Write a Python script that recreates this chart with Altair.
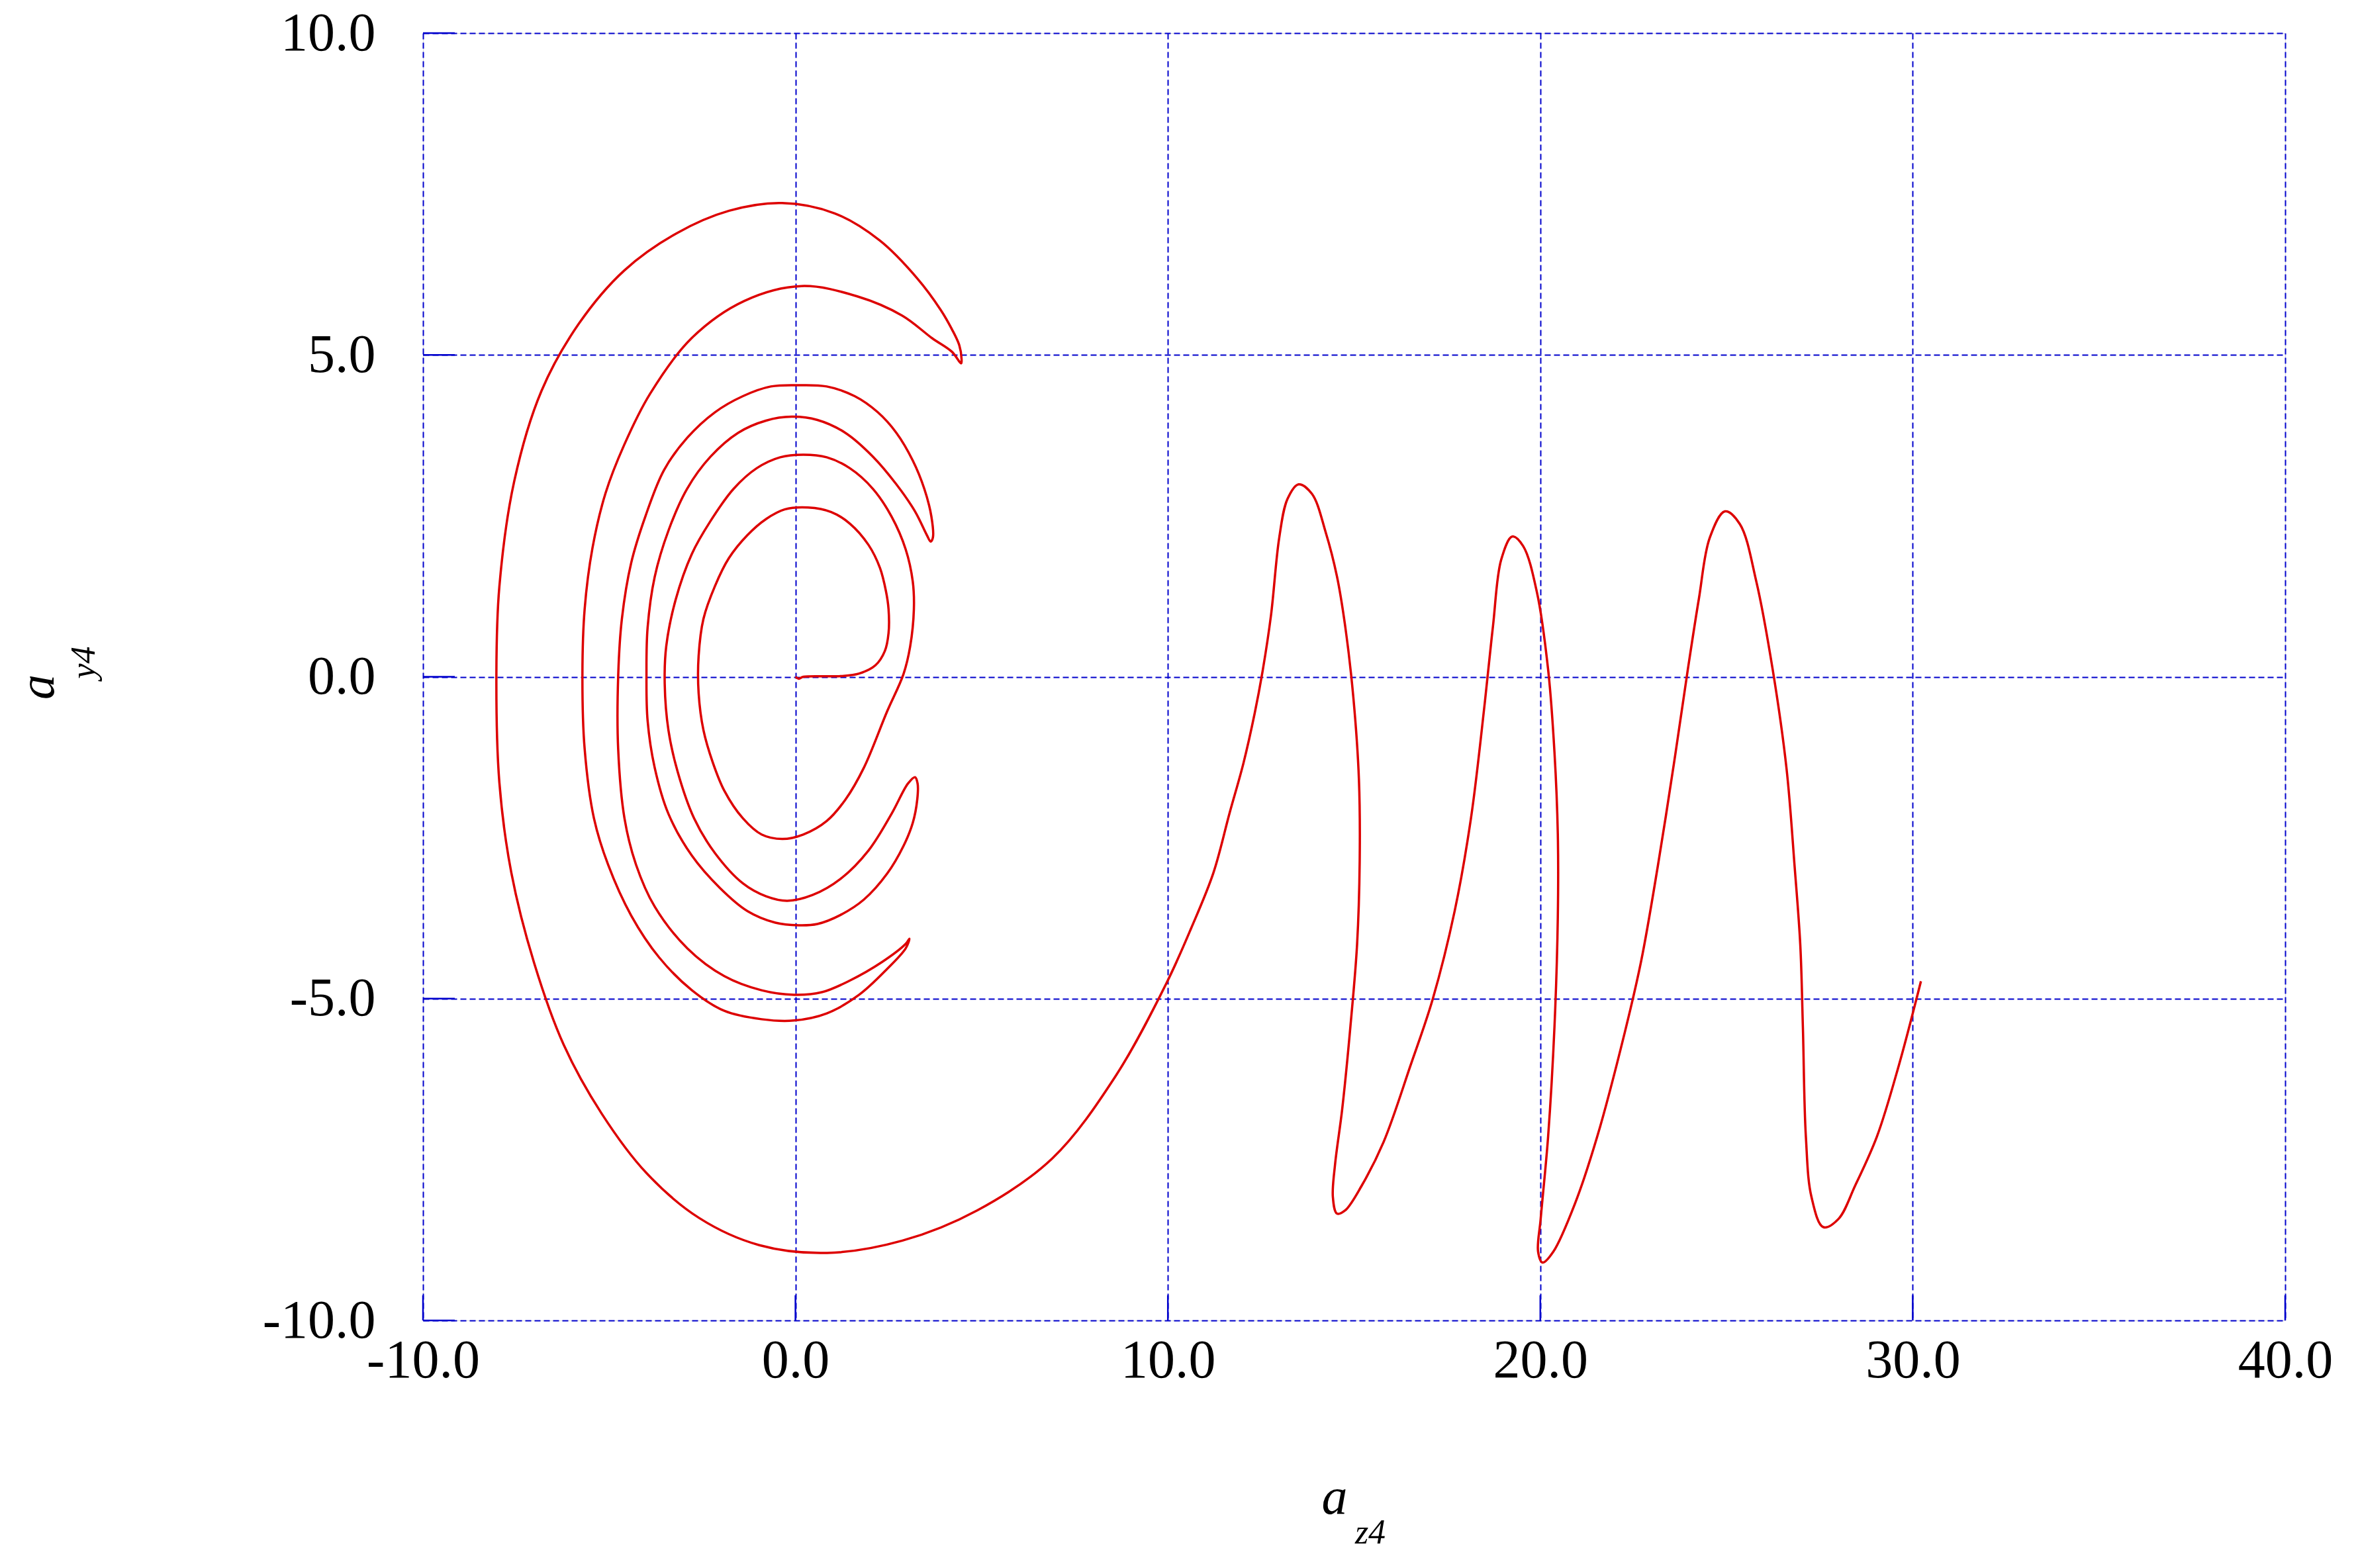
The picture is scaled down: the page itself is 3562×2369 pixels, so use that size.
import altair as alt
import pandas as pd

# ---- data (a_z4, a_y4) ----
# origin -> innermost loop -> bulge -> loop to first lower tip
seg1_x = [0, 0.09, 0.21, 1.21, 1.71, 2.15, 2.4, 2.5, 2.5, 2.43, 2.27, 1.96, 1.46, 0.96, 0.34, -0.29, -0.79, -1.29,
          -1.79, -2.16, -2.47, -2.6, -2.6, -2.47, -2.22, -1.91, -1.41, -0.91, -0.35, 0.21, 0.84, 1.34, 1.84, 2.46,
          2.9, 3.08, 3.18, 3.15, 2.96, 2.58, 2.08, 1.46, 0.84, 0.21, -0.41, -1.04, -1.66, -2.28, -2.78, -3.22,
          -3.47, -3.51, -3.41, -3.16, -2.72, -2.16, -1.41, -0.79, -0.22, 0.46, 1.21, 1.96, 2.58, 3.02, 3.21]
seg1_y = [0, -0.03, 0, 0.01, 0.05, 0.18, 0.4, 0.68, 1.05, 1.33, 1.69, 2.05, 2.38, 2.56, 2.63, 2.6, 2.45, 2.2,
          1.84, 1.41, 0.9, 0.32, -0.25, -0.83, -1.33, -1.77, -2.2, -2.45, -2.52, -2.45, -2.24, -1.91, -1.41, -0.54,
          0.04, 0.47, 1.05, 1.48, 1.98, 2.49, 2.92, 3.24, 3.41, 3.45, 3.41, 3.24, 2.92, 2.42, 1.91, 1.19,
          0.47, -0.11, -0.83, -1.48, -2.2, -2.74, -3.21, -3.41, -3.48, -3.39, -3.14, -2.7, -2.13, -1.66, -1.56]

seg2_x = [3.28, 3.27, 3.15, 2.9, 2.46, 1.84, 1.21, 0.59, 0.09, -0.54, -1.29, -2.03, -2.78, -3.41, -3.78, -3.97,
          -4.0, -3.97, -3.78, -3.41, -2.91, -2.28, -1.54, -0.79, -0.1, 0.59, 1.34, 2.08, 2.71, 3.21, 3.53, 3.63]
seg2_y = [-1.66, -1.91, -2.27, -2.63, -3.06, -3.46, -3.7, -3.84, -3.86, -3.82, -3.64, -3.28, -2.78, -2.13, -1.41,
          -0.68, 0.04, 0.76, 1.55, 2.27, 2.92, 3.42, 3.79, 3.98, 4.04, 3.99, 3.79, 3.42, 2.99, 2.57, 2.2, 2.1]

seg3_x = [3.69, 3.65, 3.46, 3.15, 2.71, 2.21, 1.59, 0.84, 0.09, -0.66, -1.41, -2.16, -2.91, -3.53, -4.03, -4.41,
          -4.66, -4.76, -4.76, -4.59, -4.28, -3.78, -2.9, -1.91, -0.91, -0.04, 0.71, 1.46, 2.33, 2.96, 3.06]
seg3_y = [2.16, 2.49, 2.92, 3.36, 3.79, 4.11, 4.36, 4.51, 4.53, 4.51, 4.36, 4.11, 3.71, 3.21, 2.49, 1.77,
          0.9, 0, -1.12, -2.2, -2.92, -3.57, -4.22, -4.65, -4.87, -4.94, -4.9, -4.72, -4.43, -4.15, -4.07]

seg4_x = [2.96, 2.46, 1.71, 0.84, -0.04, -0.91, -1.91, -2.78, -3.66, -4.41, -5.03, -5.41, -5.66, -5.72, -5.66,
          -5.45, -5.1, -4.6, -3.9, -2.79, -1.37, 0.16, 1.66, 2.87, 3.67, 4.2, 4.45]
seg4_y = [-4.22, -4.54, -4.94, -5.23, -5.34, -5.32, -5.19, -4.87, -4.36, -3.71, -2.92, -2.2, -1.12, 0, 1.05,
          2.0, 2.85, 3.6, 4.4, 5.26, 5.84, 6.07, 5.91, 5.61, 5.26, 5.05, 4.87]

outer_x = [4.46, 4.4, 4.2, 3.9, 3.27, 2.26, 1.05, -0.36, -1.78, -3.19, -4.6, -5.81, -6.82, -7.55, -7.95, -8.03,
           -7.95, -7.63, -7.02, -6.22, -5.21, -4.0, -2.58, -0.97, 0.85, 2.87, 4.88, 6.9, 8.6, 9.97]
outer_y = [4.94, 5.15, 5.4, 5.7, 6.19, 6.78, 7.2, 7.36, 7.24, 6.89, 6.31, 5.49, 4.44, 3.04, 1.4, 0,
           -1.64, -3.04, -4.44, -5.72, -6.78, -7.71, -8.41, -8.83, -8.95, -8.76, -8.29, -7.48, -6.2, -4.75]

wave_x = [10.63, 11.22, 11.66, 12.03, 12.33, 12.55, 12.77, 12.99, 13.21, 13.51, 13.87, 14.24, 14.54, 14.76, 14.98,
          15.13, 15.15, 15.08, 14.9, 14.68, 14.49, 14.43, 14.54, 14.76, 15.2, 15.79, 16.52, 17.11, 17.7, 18.14,
          18.51, 18.73, 18.95, 19.25, 19.54, 19.91, 20.21, 20.38, 20.47, 20.47, 20.38, 20.21, 20.01, 19.94, 20.06,
          20.35, 20.94, 21.53, 22.27, 22.71, 23.15, 23.59, 23.96, 24.26, 24.55, 24.96, 25.36, 25.8, 26.24, 26.61,
          26.83, 26.98, 27.05, 27.13, 27.28, 27.6, 28.01, 28.45, 29.04, 29.63, 30.22]
wave_y = [-3.9, -3.05, -2.11, -1.34, -0.57, 0.11, 0.96, 2.16, 2.76, 2.99, 2.84, 2.24, 1.56, 0.79, -0.32,
          -1.6, -2.88, -4.16, -5.44, -6.72, -7.57, -8.08, -8.34, -8.29, -7.91, -7.23, -6.03, -5.01, -3.64, -2.19,
          -0.4, 0.79, 1.82, 2.18, 2.03, 1.31, 0.11, -1.17, -2.45, -3.73, -5.44, -7.14, -8.42, -8.93, -9.1,
          -8.93, -8.17, -7.14, -5.52, -4.41, -2.96, -1.34, 0.11, 1.22, 2.16, 2.57, 2.37, 1.48, 0.11, -1.42,
          -2.96, -4.16, -5.44, -7.14, -8.08, -8.55, -8.42, -7.91, -7.14, -6.03, -4.73]

x_ticks = [-10, 0, 10, 20, 30, 40]
y_ticks = [-10, -5, 0, 5, 10]

# ---- build table ----
xs = seg1_x + seg2_x + seg3_x + seg4_x + outer_x + wave_x
ys = seg1_y + seg2_y + seg3_y + seg4_y + outer_y + wave_y
path = pd.DataFrame({"x": xs, "y": ys, "order": list(range(len(xs)))})

W, H = 2813, 1945
BLUE = "#0000cc"
RED = "#dd0000"
FONT = "Liberation Serif"
LABEL_EXPR = "replace(format(datum.value, '.1f'), '\u2212', '-')"

xscale = alt.Scale(domain=[-10, 40], nice=False, zero=False)
yscale = alt.Scale(domain=[-10, 10], nice=False, zero=False)

xaxis = alt.Axis(values=x_ticks, labelExpr=LABEL_EXPR, title=None, grid=True, gridColor=BLUE,
                 gridDash=[9, 5], gridWidth=2, tickSize=0, domain=False,
                 labelFont=FONT, labelFontSize=82, labelColor="black", labelPadding=20,
                 labelFlush=False, labelLimit=1000, labelOverlap=False)
yaxis = alt.Axis(values=y_ticks, labelExpr=LABEL_EXPR, title=None, grid=True, gridColor=BLUE,
                 gridDash=[9, 5], gridWidth=2, tickSize=0, domain=False,
                 labelFont=FONT, labelFontSize=82, labelColor="black", labelPadding=72,
                 labelBaseline="middle", labelLimit=1000, labelOverlap=False)

curve = alt.Chart(path).mark_line(color=RED, strokeWidth=3.5, interpolate="catmull-rom").encode(
    x=alt.X("x:Q", scale=xscale, axis=xaxis),
    y=alt.Y("y:Q", scale=yscale, axis=yaxis),
    order="order:Q",
)

xt = pd.DataFrame({"v": x_ticks})
yt = pd.DataFrame({"v": y_ticks})
xtick_marks = alt.Chart(xt).mark_rule(color=BLUE, strokeWidth=2.5).encode(
    x=alt.X("v:Q", scale=xscale), y=alt.value(H), y2=alt.value(H - 38))
ytick_marks = alt.Chart(yt).mark_rule(color=BLUE, strokeWidth=2.5).encode(
    y=alt.Y("v:Q", scale=yscale), x=alt.value(0), x2=alt.value(48))

def label(txt, px, py, size, angle=0):
    return alt.Chart(pd.DataFrame({"t": [txt]})).mark_text(
        font=FONT, fontStyle="italic", fontSize=size, color="black",
        align="center", baseline="alphabetic", angle=angle,
    ).encode(text="t:N", x=alt.value(px), y=alt.value(py))

x_title = label("a", 1377, 2237, 78)
x_sub = label("z4", 1431, 2282, 52)
y_title = label("a", -558, 988, 76, angle=270)
y_sub = label("y4", -496, 951, 52, angle=270)

chart = alt.layer(curve, xtick_marks, ytick_marks, x_title, x_sub, y_title, y_sub).properties(
    width=W, height=H,
    autosize=alt.AutoSizeParams(type="none"),
    padding={"left": 631, "top": 42, "right": 100, "bottom": 360},
).configure_view(stroke=BLUE, strokeWidth=3).configure(background="white")

chart.save("out.html", embed_options={"renderer": "svg", "actions": False})
